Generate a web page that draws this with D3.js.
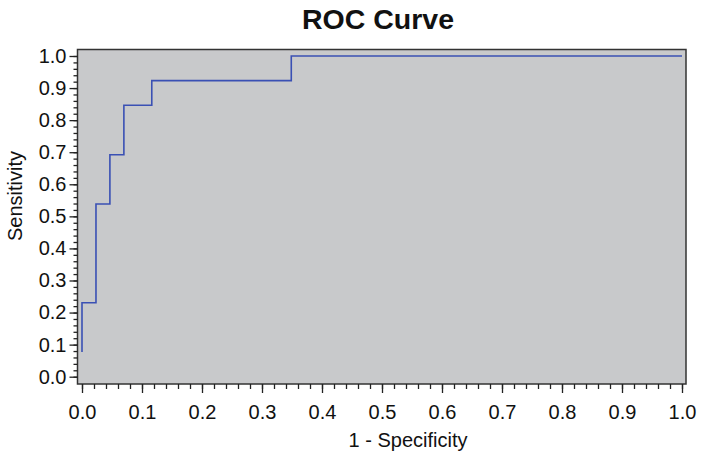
<!DOCTYPE html>
<html><head><meta charset="utf-8">
<script src="https://cdn.jsdelivr.net/npm/d3@7"></script>
<style>body{margin:0;background:#fff}svg{display:block}text{font-family:"Liberation Sans",Arial,Helvetica,sans-serif;fill:#111}</style>
</head><body>
<script>
const fpr = [0, 0, 0.0233, 0.0233, 0.0465, 0.0465, 0.0698, 0.0698, 0.1163, 0.1163, 0.3488, 0.3488, 1.0];
const tpr = [0.0769, 0.2308, 0.2308, 0.5385, 0.5385, 0.6923, 0.6923, 0.8462, 0.8462, 0.9231, 0.9231, 1.0, 1.0];
const xTicks = [0,0.1,0.2,0.3,0.4,0.5,0.6,0.7,0.8,0.9,1.0];
const yTicks = [0,0.1,0.2,0.3,0.4,0.5,0.6,0.7,0.8,0.9,1.0];
const minorTicks = d3.range(0, 51).map(i => i/50);

const W = 704, H = 461;
const svg = d3.select("body").append("svg").attr("width", W).attr("height", H);
const frame = {l: 77.5, t: 49.5, r: 686, b: 384};
const x = d3.scaleLinear().domain([0,1]).range([82, 682]);
const y = d3.scaleLinear().domain([0,1]).range([376.7, 56]);

svg.append("rect").attr("x", frame.l).attr("y", frame.t)
  .attr("width", frame.r-frame.l).attr("height", frame.b-frame.t)
  .attr("fill", "#c8c9cb").attr("stroke", "#333").attr("stroke-width", 1.5);

// x axis
const xg = svg.append("g").attr("transform", `translate(0,${frame.b})`);
xg.call(d3.axisBottom(x).tickValues(minorTicks).tickSize(5).tickFormat(""));
xg.select(".domain").remove();
const xg2 = svg.append("g").attr("transform", `translate(0,${frame.b})`);
xg2.call(d3.axisBottom(x).tickValues(xTicks).tickSize(9).tickPadding(12).tickFormat(d3.format(".1f")));
xg2.select(".domain").remove();
xg2.attr("font-size", 20);
xg2.selectAll("text").attr("font-size", 20).attr("fill", "#111");

// y axis
const yg = svg.append("g").attr("transform", `translate(${frame.l},0)`);
yg.call(d3.axisLeft(y).tickValues(minorTicks).tickSize(4).tickFormat(""));
yg.select(".domain").remove();
const yg2 = svg.append("g").attr("transform", `translate(${frame.l},0)`);
yg2.call(d3.axisLeft(y).tickValues(yTicks).tickSize(8).tickPadding(3).tickFormat(d3.format(".1f")));
yg2.select(".domain").remove();
yg2.attr("font-size", 20);
yg2.selectAll("text").attr("font-size", 20).attr("fill", "#111");
svg.selectAll("g.tick line").attr("stroke", "#222").attr("stroke-width", 1.3);

// curve
const pts = fpr.map((f,i) => [x(f), y(tpr[i])]);
svg.append("path").attr("d", d3.line()(pts)).attr("fill", "none")
  .attr("stroke", "#3a50b4").attr("stroke-width", 1.6);

// titles
svg.append("text").attr("x", 378).attr("y", 29).attr("text-anchor", "middle")
  .attr("font-size", 28.5).attr("font-weight", "bold").text("ROC Curve");
svg.append("text").attr("x", 408).attr("y", 447).attr("text-anchor", "middle")
  .attr("font-size", 20).text("1 - Specificity");
svg.append("text").attr("transform", "translate(22,196) rotate(-90)").attr("text-anchor", "middle")
  .attr("font-size", 20).text("Sensitivity");
</script>
</body></html>
